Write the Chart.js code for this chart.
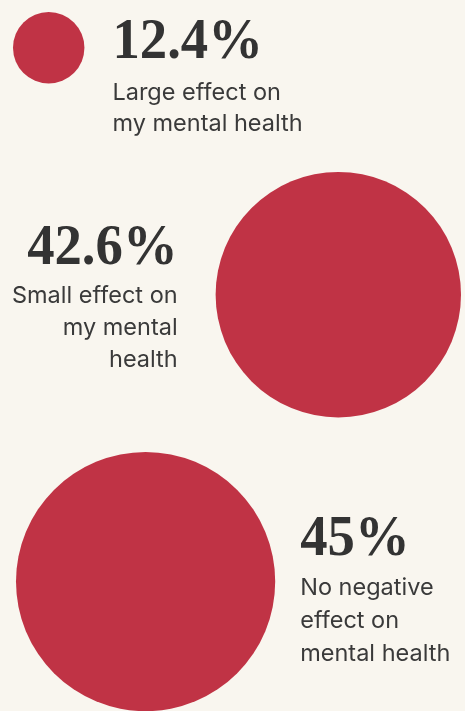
<!DOCTYPE html>
<html>
<head>
<meta charset="utf-8">
<script src="https://cdn.jsdelivr.net/npm/chart.js@4.4.1/dist/chart.umd.min.js"></script>
<style>
  html, body { margin: 0; padding: 0; background: #f9f6ef; }
  #wrap { width: 465px; height: 711px; position: relative; }
</style>
</head>
<body>
<div id="wrap"><canvas id="effectChart"></canvas></div>
<script>
// survey answers
let shares = [12.4, 42.6, 45];
let shareLabels = ["12.4%", "42.6%", "45%"];
let answerLines = [
    ["Large effect on", "my mental health"],
    ["Small effect on", "my mental", "health"],
    ["No negative", "effect on", "mental health"],
];

// layout: radius is proportional to the share
const W = 465, H = 711;
const radiusPerPoint = 2.88;
const sides = ["left", "right", "left"]; // where the circle sits
const edgeGap = [13, 4, 16];
const rowTop = [12, 172, 452];
const textGap = [28, 38, 25];
const pctOffset = [10, -31, -27]; // percent baseline relative to circle centre
const firstLineOffset = [42, 39, 40];
const lineHeight = [31, 32, 33];

let bubbles = shares.map((v, i) => {
    let r = v * radiusPerPoint;
    let x = sides[i] === "left" ? edgeGap[i] + r : W - edgeGap[i] - r;
    return { x: x, y: rowTop[i] + r, r: r };
});

// draws the percent and the answer next to each circle
const sideText = {
    id: "sideText",
    afterDatasetsDraw(chart) {
        let ctx = chart.ctx;
        let meta = chart.getDatasetMeta(0);
        ctx.save();
        meta.data.forEach((el, i) => {
            let r = bubbles[i].r;
            let left = sides[i] === "left";
            let tx = left ? el.x + r + textGap[i] : el.x - r - textGap[i];
            let base = el.y + pctOffset[i];
            ctx.textAlign = left ? "left" : "right";
            ctx.textBaseline = "alphabetic";
            ctx.fillStyle = "#333333";
            ctx.font = "bold 57px 'Liberation Serif'";
            let w = ctx.measureText(shareLabels[i]).width;
            ctx.fillText(shareLabels[i], tx, base, w * 0.96);
            ctx.fillStyle = "#3a3a3a";
            ctx.font = "23.5px Inter";
            answerLines[i].forEach((line, j) => {
                ctx.fillText(line, tx, base + firstLineOffset[i] + j * lineHeight[i]);
            });
        });
        ctx.restore();
    },
};

let effectCtx = document.getElementById("effectChart").getContext("2d");
let effectChart = new Chart(effectCtx, {
    type: "bubble",
    data: {
        labels: shareLabels,
        datasets: [
            {
                data: bubbles,
                backgroundColor: "#c03345",
                borderWidth: 0,
                hoverBorderWidth: 0,
                clip: false,
            },
        ],
    },
    options: {
        maintainAspectRatio: false,
        responsive: true,
        animation: false,
        layout: { padding: 0, autoPadding: false },
        scales: {
            x: { type: "linear", min: 0, max: W, display: false },
            y: { type: "linear", min: 0, max: H, reverse: true, display: false },
        },
        plugins: {
            legend: { display: false },
            tooltip: { enabled: false },
        },
    },
    plugins: [sideText],
});
</script>
</body>
</html>
